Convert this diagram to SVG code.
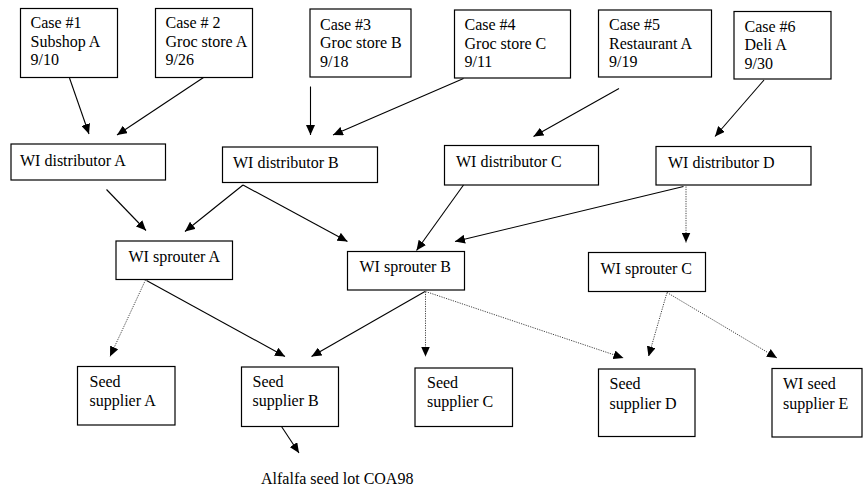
<svg xmlns="http://www.w3.org/2000/svg" width="864" height="488" viewBox="0 0 864 488">
<defs>
<style>
.box{fill:#fff;stroke:#000;stroke-width:1.2}
text{font-family:"Liberation Serif","Times New Roman",serif;font-size:16px;fill:#000}
.solid{stroke:#000;stroke-width:1.1;fill:none}
.dot{stroke:#444;stroke-width:1;stroke-dasharray:1.2 1.2;fill:none}
</style>
<marker id="ah" viewBox="0 0 10 9" refX="10" refY="4.5" markerWidth="10" markerHeight="9" markerUnits="userSpaceOnUse" orient="auto">
<path d="M0,0 L10,4.5 L0,9 Z" fill="#000"/>
</marker>
</defs>
<rect width="864" height="488" fill="#fff"/>

<g id="case1"><rect class="box" x="20.5" y="8.5" width="97" height="69"/>
<text x="30.5" y="28">Case #1</text><text x="30.5" y="46.5">Subshop A</text><text x="30.5" y="65">9/10</text></g>
<g id="case2"><rect class="box" x="155.5" y="8.5" width="97" height="69"/>
<text x="165.5" y="28">Case # 2</text><text x="165.5" y="46.5">Groc store A</text><text x="165.5" y="65"> 9/26</text></g>
<g id="case3"><rect class="box" x="310" y="9" width="101" height="68"/>
<text x="320" y="29.5">Case #3</text><text x="320" y="48">Groc store B</text><text x="320" y="66.5">9/18</text></g>
<g id="case4"><rect class="box" x="454.5" y="10" width="116" height="68"/>
<text x="464.5" y="30">Case #4</text><text x="464.5" y="48.5">Groc store C</text><text x="464.5" y="67">9/11</text></g>
<g id="case5"><rect class="box" x="598.5" y="10" width="113" height="67"/>
<text x="609" y="30">Case #5</text><text x="609" y="48.5">Restaurant A</text><text x="609" y="67">9/19</text></g>
<g id="case6"><rect class="box" x="734" y="11.5" width="97" height="67.5"/>
<text x="744.5" y="31.5">Case #6</text><text x="744.5" y="50">Deli A</text><text x="744.5" y="68.5">9/30</text></g>

<g id="distA"><rect class="box" x="11" y="144" width="154.5" height="36"/><text x="20" y="166">WI distributor A</text></g>
<g id="distB"><rect class="box" x="222.5" y="147" width="155" height="35.5"/><text x="233" y="168">WI distributor B</text></g>
<g id="distC"><rect class="box" x="444.5" y="145.5" width="154" height="39.5"/><text x="456" y="167">WI distributor C</text></g>
<g id="distD"><rect class="box" x="656" y="146.5" width="155" height="38.5"/><text x="668" y="168">WI distributor D</text></g>

<g id="sprA"><rect class="box" x="116" y="241" width="116.5" height="38.5"/><text x="128.5" y="261.5">WI sprouter A</text></g>
<g id="sprB"><rect class="box" x="347.5" y="251.5" width="117" height="38.5"/><text x="359.5" y="272">WI sprouter B</text></g>
<g id="sprC"><rect class="box" x="588.5" y="252.5" width="117" height="39"/><text x="600.5" y="273.5">WI sprouter C</text></g>

<g id="seedA"><rect class="box" x="77.5" y="366.5" width="97.5" height="58.5"/><text x="89.5" y="387">Seed</text><text x="89.5" y="405.5">supplier A</text></g>
<g id="seedB"><rect class="box" x="241.5" y="367" width="97" height="59.5"/><text x="252.5" y="387">Seed</text><text x="252.5" y="405.5">supplier B</text></g>
<g id="seedC"><rect class="box" x="415" y="368" width="97.5" height="58.5"/><text x="427" y="388">Seed</text><text x="427" y="406.5">supplier C</text></g>
<g id="seedD"><rect class="box" x="598.5" y="369" width="96.5" height="67.5"/><text x="609.5" y="389">Seed</text><text x="609.5" y="409">supplier D</text></g>
<g id="seedE"><rect class="box" x="772" y="368.5" width="90" height="68.5"/><text x="783" y="389">WI seed</text><text x="783" y="409">supplier E</text></g>

<g id="lot"><text x="261" y="483.5">Alfalfa seed lot COA98</text></g>

<g id="connectors">
<line class="solid" x1="69.5" y1="78" x2="89" y2="134" marker-end="url(#ah)"/>
<line class="solid" x1="203.5" y1="77.5" x2="117" y2="135" marker-end="url(#ah)"/>
<line class="solid" x1="310.5" y1="86.5" x2="310.5" y2="135" marker-end="url(#ah)"/>
<line class="solid" x1="463.5" y1="78.5" x2="333" y2="135" marker-end="url(#ah)"/>
<line class="solid" x1="619" y1="88.5" x2="533.5" y2="136.5" marker-end="url(#ah)"/>
<line class="solid" x1="764" y1="80" x2="715" y2="136.5" marker-end="url(#ah)"/>

<line class="solid" x1="106.5" y1="189.5" x2="146" y2="230.5" marker-end="url(#ah)"/>
<line class="solid" x1="243" y1="185" x2="185" y2="231.5" marker-end="url(#ah)"/>
<line class="solid" x1="243" y1="185" x2="347.5" y2="241.5" marker-end="url(#ah)"/>
<line class="solid" x1="463.5" y1="185" x2="416.5" y2="250.5" marker-end="url(#ah)"/>
<line class="solid" x1="683.5" y1="186.5" x2="455" y2="241.5" marker-end="url(#ah)"/>
<line class="dot" x1="686" y1="186.5" x2="686" y2="242.5" marker-end="url(#ah)"/>

<line class="dot" x1="145.5" y1="280" x2="110" y2="356.5" marker-end="url(#ah)"/>
<line class="solid" x1="146.5" y1="280.5" x2="285" y2="356.5" marker-end="url(#ah)"/>
<line class="solid" x1="425" y1="291.5" x2="311.5" y2="356.5" marker-end="url(#ah)"/>
<line class="dot" x1="425.5" y1="291.5" x2="425.5" y2="356.5" marker-end="url(#ah)"/>
<line class="dot" x1="425.5" y1="291.5" x2="623.5" y2="358" marker-end="url(#ah)"/>
<line class="dot" x1="667" y1="292.5" x2="648.5" y2="356.5" marker-end="url(#ah)"/>
<line class="dot" x1="667" y1="292.5" x2="777" y2="358" marker-end="url(#ah)"/>

<line class="solid" x1="281.5" y1="426.5" x2="299" y2="453" marker-end="url(#ah)"/>
</g>
</svg>
